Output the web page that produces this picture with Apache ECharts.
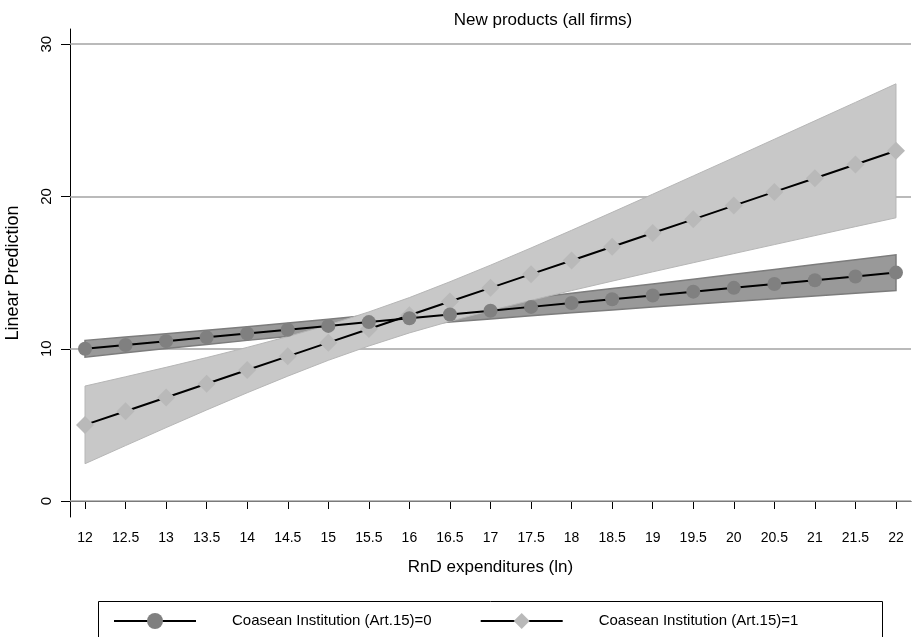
<!DOCTYPE html>
<html>
<head>
<meta charset="utf-8">
<script src="https://cdn.jsdelivr.net/npm/echarts@6/dist/echarts.min.js"></script>
<style>html,body{margin:0;padding:0;background:#fff;}#c{width:912px;height:637px;}</style>
</head>
<body>
<div id="c"></div>
<script>
var xValues = [12,12.5,13,13.5,14,14.5,15,15.5,16,16.5,17,17.5,18,18.5,19,19.5,20,20.5,21,21.5,22];
var yTicks = [0,10,20,30];
var gridValues = [0,10,20,30];

var names = ['Coasean Institution (Art.15)=0','Coasean Institution (Art.15)=1'];

var mean0 = [10,10.25,10.5,10.75,11,11.25,11.5,11.75,12,12.25,12.5,12.75,13,13.25,13.5,13.75,14,14.25,14.5,14.75,15];
var lower0 = [9.45,9.73,10.01,10.28,10.55,10.81,11.06,11.30,11.53,11.75,11.96,12.16,12.36,12.55,12.74,12.93,13.11,13.29,13.47,13.65,13.83];
var upper0 = [10.55,10.77,10.99,11.22,11.45,11.69,11.94,12.20,12.47,12.75,13.04,13.34,13.64,13.95,14.26,14.57,14.89,15.21,15.53,15.85,16.17];

var mean1 = [5,5.9,6.8,7.7,8.6,9.5,10.4,11.3,12.2,13.1,14,14.9,15.8,16.7,17.6,18.5,19.4,20.3,21.2,22.1,23];
var lower1 = [2.45,3.64,4.82,5.98,7.11,8.20,9.24,10.18,11.04,11.80,12.51,13.18,13.82,14.44,15.05,15.65,16.25,16.84,17.43,18.02,18.60];
var upper1 = [7.55,8.16,8.78,9.42,10.09,10.80,11.56,12.42,13.36,14.40,15.49,16.62,17.78,18.96,20.15,21.35,22.55,23.76,24.97,26.18,27.40];

var FONT = '"Liberation Sans", Arial, Helvetica, sans-serif';

function bandSeries(lower, upper, fill, stroke, lw, z) {
  return {
    type: 'custom',
    silent: true,
    z: z,
    data: xValues.map(function (x, i) { return [x, lower[i], upper[i]]; }),
    encode: { x: 0, y: [1, 2] },
    renderItem: function (params, api) {
      if (params.dataIndex !== 0) return null;
      var pts = [];
      for (var i = 0; i < xValues.length; i++) pts.push(api.coord([xValues[i], upper[i]]));
      for (var j = xValues.length - 1; j >= 0; j--) pts.push(api.coord([xValues[j], lower[j]]));
      return {
        type: 'polygon',
        shape: { points: pts },
        style: { fill: fill, stroke: stroke, lineWidth: lw }
      };
    }
  };
}

var chart = echarts.init(document.getElementById('c'), null, { renderer: 'canvas' });
chart.setOption({
  animation: false,
  backgroundColor: '#ffffff',
  title: {
    text: 'New products (all firms)',
    left: 538, textAlign: 'center', top: 7,
    textStyle: { fontFamily: FONT, fontSize: 17, fontWeight: 'normal', color: '#000' }
  },
  grid: { left: 70, right: 1, top: 29, bottom: 120, containLabel: false, outerBoundsMode: 'none' },
  xAxis: {
    type: 'value', min: 11.815, max: 22.185,
    name: 'RnD expenditures (ln)', nameLocation: 'middle', nameGap: 42,
    nameTextStyle: { fontFamily: FONT, fontSize: 17, color: '#000' },
    axisLine: { show: true, lineStyle: { color: '#000', width: 1 } },
    axisTick: { show: true, customValues: xValues, length: 8, lineStyle: { color: '#000' } },
    axisLabel: { customValues: xValues, fontFamily: FONT, fontSize: 14, color: '#000', margin: 14,
      formatter: function (v) { return String(v); } },
    splitLine: { show: false }
  },
  yAxis: {
    type: 'value', min: -1.05, max: 31,
    name: 'Linear Prediction', nameLocation: 'middle', nameGap: 48,
    nameTextStyle: { fontFamily: FONT, fontSize: 18, color: '#000' },
    axisLine: { show: true, lineStyle: { color: '#000', width: 1 } },
    axisTick: { show: true, customValues: yTicks, length: 9, lineStyle: { color: '#000' } },
    axisLabel: { customValues: yTicks, rotate: 90, fontFamily: FONT, fontSize: 15, color: '#000', margin: 16 },
    splitLine: { show: false }
  },
  legend: {
    left: 108, top: 608,
    itemWidth: 82, itemHeight: 20, itemGap: 48,
    textStyle: { fontFamily: FONT, fontSize: 15, color: '#000', padding: [0, 0, 0, 31] },
    data: names
  },
  graphic: [{
    type: 'rect', silent: true,
    shape: { x: 98.5, y: 601.5, width: 784, height: 60 },
    style: { fill: null, stroke: '#000', lineWidth: 1 }
  }],
  series: [
    {
      type: 'line', name: '_grid', data: [], silent: true, z: 1,
      markLine: {
        silent: true, symbol: 'none', z: 1, animation: false,
        label: { show: false },
        lineStyle: { color: '#a3a3a3', width: 1.6, type: 'solid' },
        data: gridValues.map(function (v) { return { yAxis: v }; })
      }
    },
    bandSeries(lower0, upper0, '#999999', '#7c7c7c', 1.5, 2),
    bandSeries(lower1, upper1, '#c8c8c8', '#b6b6b6', 1, 2),
    {
      type: 'line', name: names[0], z: 4,
      data: xValues.map(function (x, i) { return [x, mean0[i]]; }),
      symbol: 'circle', symbolSize: 14,
      itemStyle: { color: '#808080', borderWidth: 0 },
      lineStyle: { color: '#000', width: 2 }
    },
    {
      type: 'line', name: names[1], z: 3,
      data: xValues.map(function (x, i) { return [x, mean1[i]]; }),
      symbol: 'diamond', symbolSize: 18,
      itemStyle: { color: '#b9b9b9', borderWidth: 0 },
      lineStyle: { color: '#000', width: 2 }
    }
  ]
});
</script>
</body>
</html>
